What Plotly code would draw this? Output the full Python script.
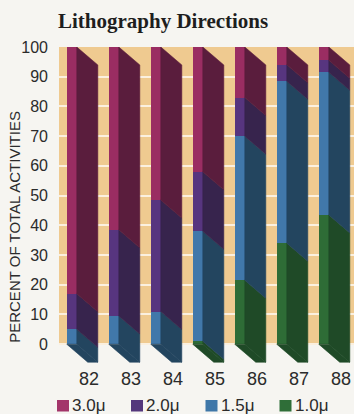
import plotly.graph_objects as go

# Share of lithography activity by feature size, per year (percent)
years = ["82", "83", "84", "85", "86", "87", "88"]
size_labels = ["1.0μ", "1.5μ", "2.0μ", "3.0μ"]          # stacked bottom -> top
pct_1_0 = [0, 0, 0, 1, 21.5, 34, 43.5]
pct_1_5 = [5, 9.5, 11, 37, 48.5, 54.5, 48]
pct_2_0 = [12, 29, 37.5, 20, 13, 5.5, 4]
pct_3_0 = [83, 61.5, 51.5, 42, 17, 6, 4.5]
y_ticks = [0, 10, 20, 30, 40, 50, 60, 70, 80, 90, 100]

series = [pct_1_0, pct_1_5, pct_2_0, pct_3_0]
front_colors = ["#2e6c36", "#4178aa", "#57357f", "#9a2d62"]
side_colors = ["#1f4a27", "#23455f", "#37244d", "#5a1d3d"]
legend_colors = ["#2f6e38", "#3f77a8", "#54377c", "#a3356a"]

W, H = 354, 414
ML, MR, MT, MB = 59, 0, 47, 49
PW, PH = W - ML - MR, H - MT - MB
X_RANGE = [-0.714, 6.31]
Y_RANGE = [-7, 100]

# extruded-bar geometry (in axis units)
FRONT_OFF = -0.53
FRONT_W = 0.24
DEPTH_X = 0.5
DEPTH_Y = 6.05

BG = "#f6f5f1"
ORANGE = "#efca90"
TEXT = "#2b2b2b"

x = list(range(len(years)))
fig = go.Figure()

# front faces: stacked bars
for name, vals, col in zip(size_labels, series, front_colors):
    fig.add_trace(go.Bar(
        x=x, y=vals, name=name, width=FRONT_W, offset=FRONT_OFF,
        marker=dict(color=col, line=dict(width=0)),
        showlegend=False, hoverinfo="skip",
    ))

# side faces: sheared parallelograms for each stacked segment
base = [0.0] * len(years)
for name, vals, col in zip(size_labels, series, side_colors):
    xs, ys = [], []
    for i, v in enumerate(vals):
        lo, hi = base[i], base[i] + v
        if v > 0:
            xr = i + FRONT_OFF + FRONT_W
            xs += [xr, xr + DEPTH_X, xr + DEPTH_X, xr, xr, None]
            ys += [lo, lo - DEPTH_Y, hi - DEPTH_Y, hi, lo, None]
        base[i] = hi
    fig.add_trace(go.Scatter(
        x=xs, y=ys, mode="lines", fill="toself", fillcolor=col,
        line=dict(color=col, width=0.6), showlegend=False, hoverinfo="skip",
    ))

# bottom faces take the colour of the lowest non-empty segment
for i in range(len(years)):
    k = next(j for j, s in enumerate(series) if s[i] > 0)
    xl = i + FRONT_OFF
    xr = xl + FRONT_W
    fig.add_trace(go.Scatter(
        x=[xl, xr, xr + DEPTH_X, xl + DEPTH_X, xl],
        y=[0, 0, -DEPTH_Y, -DEPTH_Y, 0],
        mode="lines", fill="toself", fillcolor=side_colors[k],
        line=dict(color=side_colors[k], width=0.6),
        showlegend=False, hoverinfo="skip",
    ))


def px_x(px):
    return (px - ML) / PW


def px_y(py):
    return (MT + PH - py) / PH


shapes = [dict(type="rect", xref="paper", yref="y", x0=0, x1=1, y0=0, y1=100,
               fillcolor=ORANGE, line=dict(width=0), layer="below")]
annotations = []

# legend: swatch + label, top of stack first
legend_x = [57, 131, 205.5, 279.5]
for lx, name, col in zip(legend_x, size_labels[::-1], legend_colors[::-1]):
    shapes.append(dict(type="rect", xref="paper", yref="paper",
                       x0=px_x(lx), x1=px_x(lx + 12), y0=px_y(411.5), y1=px_y(400),
                       fillcolor=col, line=dict(width=0)))
    annotations.append(dict(xref="paper", yref="paper", x=px_x(lx + 13), y=px_y(405.5),
                            xanchor="left", yanchor="middle", showarrow=False,
                            text=name, font=dict(family="Liberation Sans", size=17, color=TEXT)))

annotations.append(dict(
    xref="paper", yref="y", x=0, xshift=-44, y=39.5, xanchor="center", yanchor="middle",
    textangle=-90, showarrow=False, text="PERCENT OF TOTAL ACTIVITIES",
    font=dict(family="Liberation Sans", size=15, color=TEXT)))

fig.update_layout(
    width=W, height=H,
    margin=dict(l=ML, r=MR, t=MT, b=MB, pad=0),
    paper_bgcolor=BG, plot_bgcolor=BG,
    barmode="stack", bargap=0,
    title=dict(text="<b>Lithography Directions</b>", xref="container", yref="container",
               x=58 / W, y=1 - 21 / H, xanchor="left", yanchor="middle",
               font=dict(family="Liberation Serif", size=21, color="#1e1e1e")),
    shapes=shapes, annotations=annotations,
    xaxis=dict(range=X_RANGE, tickvals=x, ticktext=years, showgrid=False, zeroline=False,
               showline=False, ticks="", ticklabelstandoff=1,
               tickfont=dict(family="Liberation Sans", size=18, color=TEXT)),
    yaxis=dict(range=Y_RANGE, tickvals=y_ticks, showgrid=True, gridcolor="#fbf0df",
               gridwidth=1.5, zeroline=False, showline=False, ticks="",
               ticklabelstandoff=10,
               tickfont=dict(family="Liberation Sans", size=16, color=TEXT)),
)

fig.write_html("out.html")
